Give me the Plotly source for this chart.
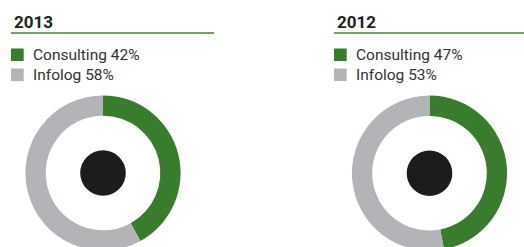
import plotly.graph_objects as go

# ---- data ----
years = ["2013", "2012"]
labels = ["Consulting", "Infolog"]
values_2013 = [42, 58]
values_2012 = [47, 53]
series = [values_2013, values_2012]
colors = ["#377d2c", "#b3b4b8"]

W, H = 524, 256

def px_x(x):
    return x / W

def px_y(y):
    return 1 - y / H

fig = go.Figure()

centers = [(103.0, 173.0), (429.5, 173.2)]
R = 77.6
hole = 57.3 / R

# layout anchors per panel (pixel positions)
title_x = [12, 335]
line_x = [(11, 214), (334, 524)]
leg_sq_x = [11, 334]

shapes = []
annotations = []

for i, (yr, vals) in enumerate(zip(years, series)):
    cx, cy = centers[i]
    fig.add_trace(go.Pie(
        labels=labels,
        values=vals,
        hole=hole,
        sort=False,
        direction="clockwise",
        rotation=0,
        marker=dict(colors=colors, line=dict(width=0)),
        textinfo="none",
        hoverinfo="label+percent",
        showlegend=False,
        domain=dict(x=[px_x(cx - R), px_x(cx + R)],
                    y=[px_y(cy + R), px_y(cy - R)]),
    ))
    # black center dot
    shapes.append(dict(type="circle", xref="paper", yref="paper",
                       xsizemode="pixel", ysizemode="pixel",
                       xanchor=px_x(cx), yanchor=px_y(cy),
                       x0=-22.8, x1=22.8, y0=-22.8, y1=22.8,
                       fillcolor="#1d1b1e", line=dict(width=0)))
    # title
    annotations.append(dict(text="<b>" + yr + "</b>", xref="paper", yref="paper",
                            x=px_x(title_x[i]), y=px_y(21.5),
                            xanchor="left", yanchor="middle", showarrow=False,
                            font=dict(family="Roboto", size=17, color="#222222")))
    # underline
    x0, x1 = line_x[i]
    shapes.append(dict(type="line", xref="paper", yref="paper",
                       x0=px_x(x0), x1=px_x(x1), y0=px_y(33), y1=px_y(33),
                       line=dict(color="#6fa563", width=2)))
    # legend rows
    for j, (lab, v) in enumerate(zip(labels, vals)):
        yc = 54.8 + j * 20
        sx = leg_sq_x[i]
        shapes.append(dict(type="rect", xref="paper", yref="paper",
                           x0=px_x(sx), x1=px_x(sx + 12.7),
                           y0=px_y(yc + 6.3), y1=px_y(yc - 6.3),
                           fillcolor=colors[j], line=dict(width=0)))
        annotations.append(dict(text=f"{lab} {v}%", xref="paper", yref="paper",
                                x=px_x(sx + 19.5), y=px_y(yc),
                                xanchor="left", yanchor="middle", showarrow=False,
                                font=dict(family="Roboto", size=15.5, color="#333333")))

fig.update_layout(
    width=W, height=H,
    margin=dict(l=0, r=0, t=0, b=0),
    paper_bgcolor="white",
    plot_bgcolor="white",
    shapes=shapes,
    annotations=annotations,
)

fig.write_html("out.html", config={"displayModeBar": False},
               post_script="document.body.style.margin='0';document.body.style.overflow='hidden';")
